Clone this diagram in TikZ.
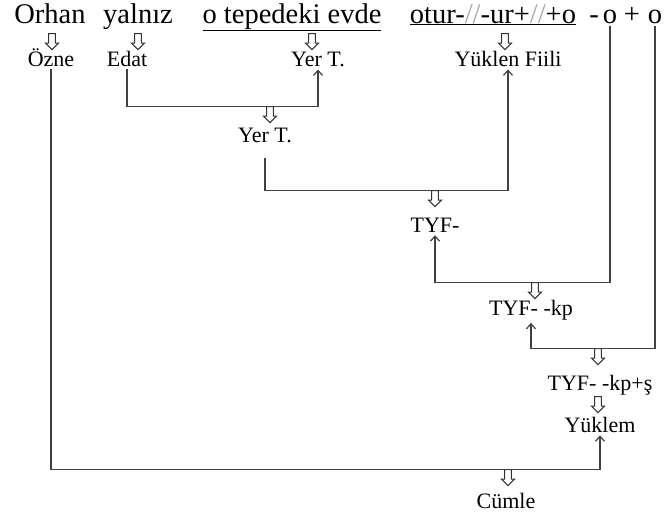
\documentclass[tikz,border=0pt]{standalone}
\usepackage{fontspec}
\setmainfont{Liberation Serif}
\usetikzlibrary{arrows.meta,shapes.arrows}

\tikzset{
  word/.style={anchor=base, inner sep=3pt, font=\fontsize{28.5}{30}\selectfont},
  lbl/.style={anchor=base, inner sep=3pt, font=\fontsize{22}{24}\selectfont},
  downarr/.style={single arrow, draw=black!80, line width=1pt, shape border rotate=270,
    minimum height=16pt, minimum width=13pt, inner sep=2.6pt, single arrow head extend=3pt},
  link/.style={draw=black!75, line width=1.2pt, -{Straight Barb[length=5pt,width=9pt]}}
}

\begin{document}
\begin{tikzpicture}[x=1pt,y=-1pt]
\useasboundingbox (0,0) rectangle (665,515);

\node[word] (orhan) at (50,23) {Orhan};
\node[word] (yalniz) at (138,23) {yalnız};
\node[word] (tepe) at (292,23) {\underline{o tepedeki evde}};
\node[word] (otur) at (493,23) {\underline{otur-{\color{black!35}//}-ur+{\color{black!35}//}+o}};
\node[word] (dsh) at (594,23) {-};
\node[word] (oA) at (610,23) {o};
\node[word] (pls) at (632,23) {+};
\node[word] (oB) at (655,23) {o};

\node[downarr] (a1) at (52,40) {};
\node[downarr] (a2) at (138,40) {};
\node[downarr] (a3) at (312,40) {};
\node[downarr] (a4) at (505,40) {};

\node[lbl] (ozne) at (51,66) {Özne};
\node[lbl] (edat) at (127,66) {Edat};
\node[lbl] (yerA) at (318,66) {Yer T.};
\node[lbl] (yukF) at (508,66) {Yüklen Fiili};

\node[downarr] (a5) at (270,113) {};
\node[lbl] (yerB) at (265,142) {Yer T.};

\node[downarr] (a6) at (435,197) {};
\node[lbl] (tyf) at (435,232) {TYF-};

\node[downarr] (a7) at (535,289) {};
\node[lbl] (tyfkp) at (531,315) {TYF- -kp};

\node[downarr] (a8) at (598,355) {};
\node[lbl] (tyfkps) at (600,390) {TYF- -kp+ş};

\node[downarr] (a9) at (598,403) {};
\node[lbl] (yuklem) at (600,432) {Yüklem};

\node[downarr] (a10) at (508,476) {};
\node[lbl] (cumle) at (506,508) {Cümle};

\draw[link] (edat.south) -- (edat.south |- a5.north) -| (yerA.south);
\draw[link] ([yshift=-12pt]yerB.south) -- (yerB.south |- a6.north) -| (yukF.south);
\draw[link] (oA.south) -- (oA.south |- a7.north) -| (tyf.south);
\draw[link] (oB.south) -- (oB.south |- a8.north) -| (tyfkp.south);
\draw[link] (ozne.south) -- (ozne.south |- a10.north) -| (yuklem.south);
\end{tikzpicture}
\end{document}
